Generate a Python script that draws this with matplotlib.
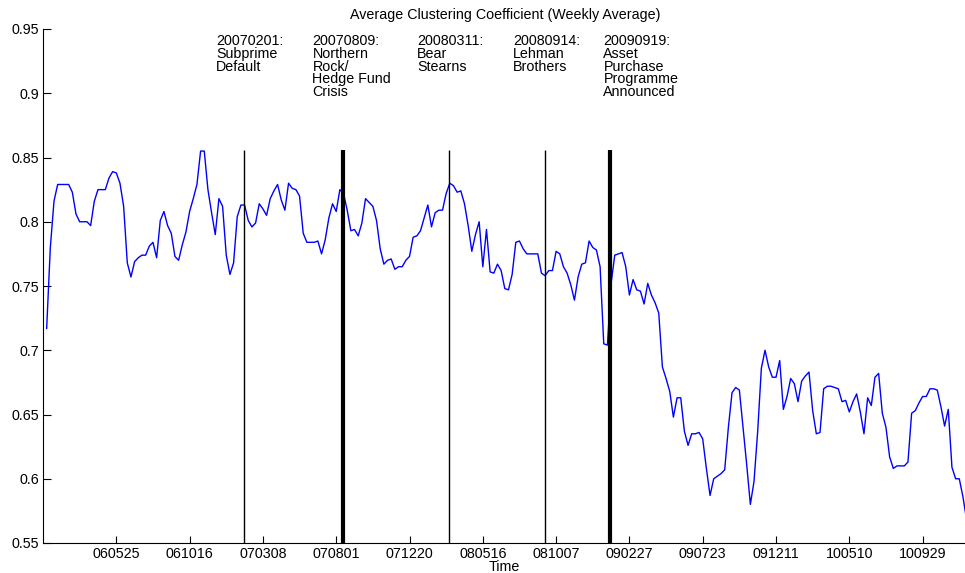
import numpy as np
import matplotlib
matplotlib.use("Agg")
import matplotlib.pyplot as plt

plt.rcParams['font.family'] = ['Liberation Sans', 'DejaVu Sans']

# weekly average clustering coefficient, one value per week (index 1..252)
clustering = [
    0.717, 0.780, 0.816, 0.829, 0.829, 0.829, 0.829, 0.823, 0.806, 0.800,
    0.800, 0.800, 0.797, 0.816, 0.825, 0.825, 0.825, 0.834, 0.839, 0.838,
    0.830, 0.812, 0.768, 0.757, 0.769, 0.772, 0.774, 0.774, 0.781, 0.784,
    0.772, 0.801, 0.808, 0.797, 0.791, 0.773, 0.770, 0.782, 0.792, 0.808,
    0.818, 0.829, 0.855, 0.855, 0.825, 0.807, 0.790, 0.818, 0.812, 0.774,
    0.759, 0.768, 0.804, 0.813, 0.813, 0.801, 0.796, 0.799, 0.814, 0.810,
    0.805, 0.818, 0.824, 0.829, 0.817, 0.809, 0.830, 0.826, 0.825, 0.820,
    0.791, 0.784, 0.784, 0.784, 0.785, 0.775, 0.786, 0.803, 0.814, 0.808,
    0.825, 0.822, 0.809, 0.793, 0.794, 0.789, 0.799, 0.818, 0.815, 0.812,
    0.801, 0.779, 0.767, 0.770, 0.771, 0.763, 0.765, 0.765, 0.770, 0.773,
    0.788, 0.789, 0.793, 0.803, 0.813, 0.796, 0.807, 0.809, 0.809, 0.822,
    0.830, 0.828, 0.823, 0.824, 0.814, 0.797, 0.777, 0.790, 0.800, 0.765,
    0.794, 0.761, 0.760, 0.767, 0.762, 0.748, 0.747, 0.759, 0.784, 0.785,
    0.779, 0.775, 0.775, 0.775, 0.775, 0.760, 0.758, 0.762, 0.762, 0.777,
    0.775, 0.765, 0.760, 0.751, 0.739, 0.757, 0.767, 0.768, 0.785, 0.780,
    0.778, 0.765, 0.705, 0.704, 0.752, 0.774, 0.775, 0.776, 0.765, 0.743,
    0.755, 0.747, 0.746, 0.736, 0.752, 0.743, 0.737, 0.729, 0.687, 0.678,
    0.668, 0.648, 0.663, 0.663, 0.637, 0.626, 0.635, 0.635, 0.636, 0.631,
    0.608, 0.587, 0.600, 0.602, 0.604, 0.607, 0.640, 0.667, 0.671, 0.669,
    0.640, 0.611, 0.580, 0.598, 0.637, 0.686, 0.700, 0.687, 0.679, 0.679,
    0.692, 0.654, 0.664, 0.678, 0.674, 0.660, 0.676, 0.680, 0.683, 0.653,
    0.635, 0.636, 0.670, 0.672, 0.672, 0.671, 0.670, 0.660, 0.661, 0.652,
    0.660, 0.666, 0.652, 0.635, 0.663, 0.657, 0.679, 0.682, 0.651, 0.640,
    0.617, 0.608, 0.610, 0.610, 0.610, 0.613, 0.651, 0.653, 0.659, 0.664,
    0.664, 0.670, 0.670, 0.669, 0.656, 0.641, 0.654, 0.609, 0.600, 0.600,
    0.586, 0.568,
]

# date labels every 20 weeks
tick_weeks = [20, 40, 60, 80, 100, 120, 140, 160, 180, 200, 220, 240]
tick_labels = ['060525', '061016', '070308', '070801', '071220', '080516',
               '081007', '090227', '090723', '091211', '100510', '100929']

# crisis events (week position on the axis)
event_weeks = [54.8, 81.8, 110.9, 137.1, 154.8]
event_labels = ['20070201:\nSubprime\nDefault',
                '20070809:\nNorthern\nRock/\nHedge Fund\nCrisis',
                '20080311:\nBear\nStearns',
                '20080914:\nLehman\nBrothers',
                '20090919:\nAsset\nPurchase\nProgramme\nAnnounced']
event_widths = [1.0, 3.0, 1.0, 1.0, 3.0]
label_weeks = [47.2, 73.5, 102.0, 128.3, 152.9]

weeks = np.arange(1, len(clustering) + 1)

fig = plt.figure(figsize=(9.65, 5.73), dpi=100)
ax = fig.add_axes([43 / 965, 30 / 573, 923.6 / 965, 514 / 573])

ax.plot(weeks, clustering, color='#0000ff', lw=1.0, zorder=2)

for wk, lw in zip(event_weeks, event_widths):
    ax.plot([wk, wk], [0.55, 0.856], color='black', lw=lw, zorder=3,
            solid_capstyle='butt')

for wk, txt in zip(label_weeks, event_labels):
    ax.text(wk, 0.946, txt, ha='left', va='top', fontsize=10.3,
            linespacing=0.88)

ax.set_xlim(0, 252)
ax.set_ylim(0.55, 0.95)
ax.set_xticks(tick_weeks)
ax.set_xticklabels(tick_labels)
ax.set_yticks(np.arange(0.55, 0.951, 0.05))
ax.set_yticklabels(['%g' % round(v, 2) for v in np.arange(0.55, 0.951, 0.05)])

ax.spines['top'].set_visible(False)
ax.spines['right'].set_visible(False)
ax.tick_params(axis='both', direction='in', labelsize=10.3, width=0.8)
ax.tick_params(axis='x', length=5, pad=3)
ax.tick_params(axis='y', length=6, pad=3)

ax.set_xlabel('Time', fontsize=10.3, labelpad=-1)
ax.set_title('Average Clustering Coefficient (Weekly Average)', fontsize=10.3,
             pad=7)

fig.savefig('out.png', dpi=100)
